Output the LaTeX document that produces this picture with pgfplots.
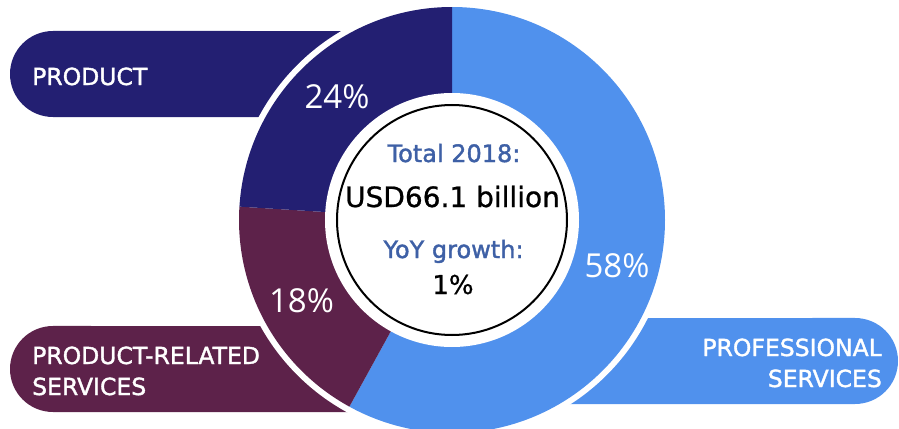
\documentclass[border=0pt]{standalone}
\usepackage{pgfplots}
\usepackage{pgfplotstable}
\pgfplotsset{compat=1.18}
\usepackage{fontspec}
\setmainfont{DejaVu Sans}
\newfontfamily\pctfont{Open Sans}
\newfontfamily\lblfont[FakeBold=1.5]{DejaVu Sans}
\newfontfamily\midfont[FakeBold=0.8]{DejaVu Sans}
\definecolor{cnavy}{RGB}{35,31,114}
\definecolor{cmaroon}{RGB}{93,34,74}
\definecolor{cblue}{RGB}{80,145,237}
\definecolor{ctext}{RGB}{62,96,166}

\pgfplotstableread{
label value
Professional 58
ProductRelated 18
Product 24
}\shares

\begin{document}%
\begin{tikzpicture}
\pgfplotstablegetelem{0}{value}\of\shares \let\vA\pgfplotsretval
\pgfplotstablegetelem{1}{value}\of\shares \let\vB\pgfplotsretval
\pgfplotstablegetelem{2}{value}\of\shares \let\vC\pgfplotsretval
\pgfmathsetmacro\aZ{90}
\pgfmathsetmacro\aA{\aZ-\vA*3.6}
\pgfmathsetmacro\aB{\aA-\vB*3.6}
\pgfmathsetmacro\aC{\aB-\vC*3.6}
\useasboundingbox (0,0) rectangle (899bp,429bp);
\clip (0,0) rectangle (899bp,429bp);
\begin{axis}[
  x=1bp, y=1bp, xmin=0, xmax=899, ymin=0, ymax=429,
  hide axis, clip=false, at={(0,0)}, anchor=origin,
]
% banners
\fill[cnavy] (axis cs:420,312) -- (axis cs:53,312) arc[start angle=270, end angle=90, radius=43bp] -- (axis cs:420,398) -- cycle;
\fill[cmaroon] (axis cs:420,17) -- (axis cs:53,17) arc[start angle=270, end angle=90, radius=43bp] -- (axis cs:420,103) -- cycle;
\fill[cblue] (axis cs:480,25) -- (axis cs:855,25) arc[start angle=-90, end angle=90, radius=43bp] -- (axis cs:480,111) -- cycle;
% white ring
\fill[white] (axis cs:452,209) circle[radius=219bp];
% slices
\fill[cblue] (axis cs:452,209) -- ++(\aZ:213bp) arc[start angle=\aZ, end angle=\aA, radius=213bp] -- cycle;
\fill[cmaroon] (axis cs:452,209) -- ++(\aA:213bp) arc[start angle=\aA, end angle=\aB, radius=213bp] -- cycle;
\fill[cnavy] (axis cs:452,209) -- ++(\aB:213bp) arc[start angle=\aB, end angle=\aC, radius=213bp] -- cycle;
\fill[white] (axis cs:452,209) circle[radius=127bp];
\draw[black, line width=2bp] (axis cs:452,209) circle[radius=115bp];
% labels
\tikzset{lbl/.style={inner sep=0, text=white, font=\lblfont\fontsize{23.5bp}{28bp}\selectfont}}
\node[lbl, anchor=base west] at (axis cs:32,344) {PRODUCT};
\node[lbl, anchor=base west] at (axis cs:32,65) {PRODUCT-RELATED};
\node[lbl, anchor=base west] at (axis cs:32,34) {SERVICES};
\node[lbl, anchor=base east] at (axis cs:882,73) {PROFESSIONAL};
\node[lbl, anchor=base east] at (axis cs:882,42) {SERVICES};
% percentages
\node[anchor=base, inner sep=0, text=white, font=\pctfont\fontsize{33bp}{40bp}\selectfont] at (axis cs:337,321) {\vC\%};
\node[anchor=base, inner sep=0, text=white, font=\pctfont\fontsize{33bp}{40bp}\selectfont] at (axis cs:301.5,117) {\vB\%};
\node[anchor=base, inner sep=0, text=white, font=\pctfont\fontsize{33bp}{40bp}\selectfont] at (axis cs:617,152) {\vA\%};
% centre text
\node[anchor=base, inner sep=0, text=ctext, font=\lblfont\fontsize{24bp}{29bp}\selectfont] at (axis cs:454,267) {Total 2018:};
\node[anchor=base, inner sep=0, text=black, font=\midfont\fontsize{28bp}{34bp}\selectfont] at (axis cs:452.5,222) {USD66.1 billion};
\node[anchor=base, inner sep=0, text=ctext, font=\lblfont\fontsize{24bp}{29bp}\selectfont] at (axis cs:453.5,171) {YoY growth:};
\node[anchor=base, inner sep=0, text=black, font=\midfont\fontsize{26bp}{31bp}\selectfont] at (axis cs:453,135) {1\%};
\end{axis}
\end{tikzpicture}%
\end{document}
